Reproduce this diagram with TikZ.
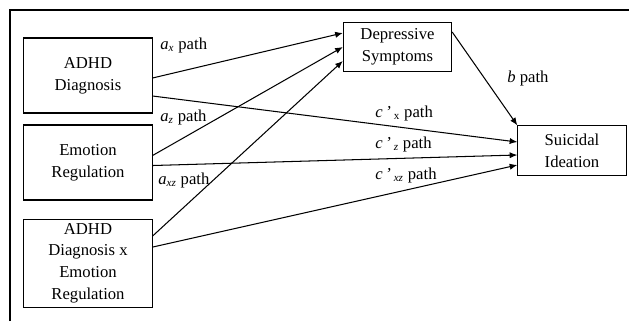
\documentclass[tikz,border=0pt]{standalone}
\usepackage{fontspec}
\setmainfont{Liberation Serif}
\usetikzlibrary{positioning,calc,arrows.meta}

\begin{document}
\begin{tikzpicture}[
    x=0.72pt, y=-0.72pt,
    font=\fontsize{12}{15.6}\selectfont,
    predictor/.style={rectangle, draw, line width=0.75pt, align=center, inner sep=3pt, minimum width=92.2pt, minimum height=54pt},
    outcome/.style={rectangle, draw, line width=0.75pt, align=center, inner sep=3pt, minimum width=78pt, minimum height=35.5pt},
    effect/.style={-{Latex[length=5.5pt,width=4.5pt]}, line width=0.75pt},
    lbl/.style={anchor=west, inner sep=0pt}
  ]
  \useasboundingbox (0,0) rectangle (629,321);

  % Frame
  \draw[line width=0.75pt] (10,321) |- (629,10);

  % Variables
  \node[predictor] at (88,75.5) (adhd) {ADHD\\Diagnosis};
  \node[predictor, below=7.9pt of adhd] (emo) {Emotion\\Regulation};
  \node[predictor, below=13pt of emo] (inter) {ADHD\\Diagnosis x\\Emotion\\Regulation};
  \node[outcome] at (397.5,47) (dep) {Depressive\\Symptoms};
  \node[outcome] at (572,150.5) (sui) {Suicidal\\Ideation};

  % a paths
  \draw[effect] ($(adhd.east)+(0,2.5)$) -- ($(dep.west)+(0,-14)$);
  \draw[effect] ($(emo.east)+(0,-7)$) -- (dep.west);
  \draw[effect] ($(inter.east)+(0,-27)$) -- ($(dep.west)+(0,14)$);

  % c' paths
  \draw[effect] ($(adhd.east)+(0,20.5)$) -- ($(sui.west)+(0,-8.5)$);
  \draw[effect] ($(emo.east)+(0,3)$) -- ($(sui.west)+(0,4.5)$);
  \draw[effect] ($(inter.east)+(0,-16)$) -- ($(sui.west)+(0,14.5)$);

  % b path
  \draw[effect] ($(dep.east)+(0,-15)$) -- (sui.north west);

  % Labels
  \node[lbl] at (160,45) (ax) {\textit{a}\textsubscript{\textit{x}} path};
  \node[lbl] at (160,117) (az) {\textit{a}\textsubscript{\textit{z}} path};
  \node[lbl] at (158,180) (axz) {\textit{a}\textsubscript{\textit{xz}} path};
  \node[lbl] at (507,78) (bp) {\textit{b} path};
  \node[lbl] at (375,113) (cx) {\textit{c}\,\textit{'}\,\textsubscript{x} path};
  \node[lbl] at (375,144) (cz) {\textit{c}\,\textit{'}\,\textsubscript{\textit{z}} path};
  \node[lbl] at (375,175) (cxz) {\textit{c}\,\textit{'}\,\textsubscript{\textit{xz}} path};

\end{tikzpicture}
\end{document}
